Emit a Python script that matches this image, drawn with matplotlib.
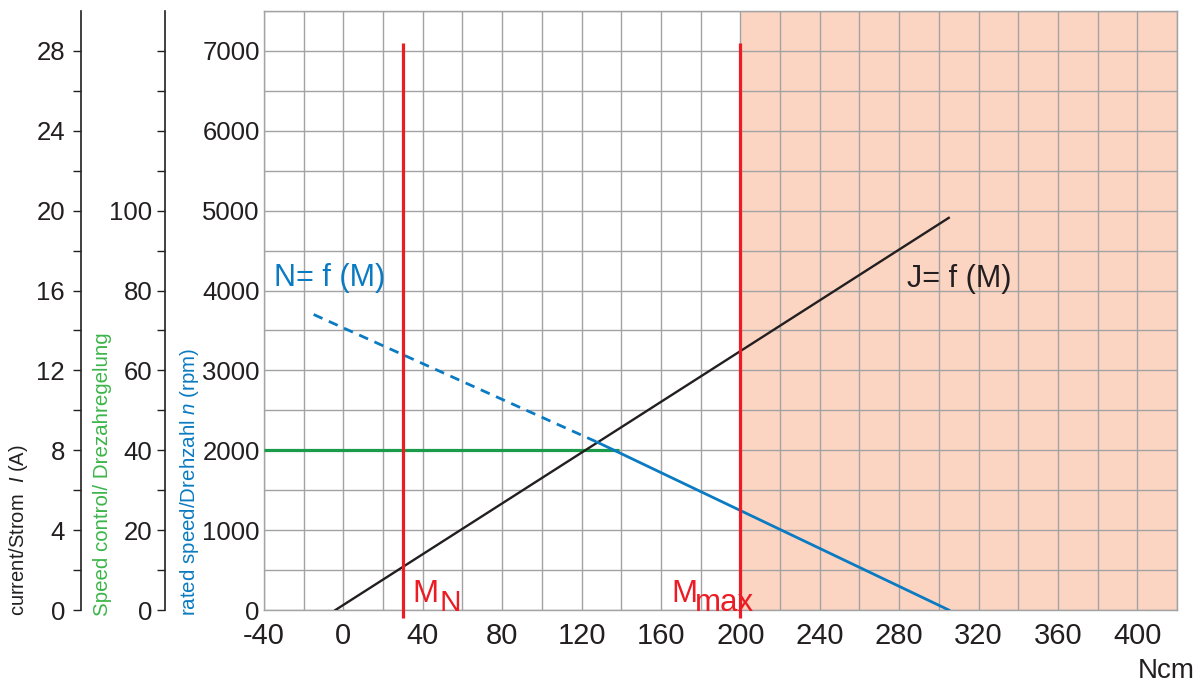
import matplotlib
matplotlib.use("Agg")
import matplotlib.pyplot as plt
import numpy as np

plt.rcParams['font.family'] = ['Liberation Sans', 'DejaVu Sans']
plt.rcParams['mathtext.fontset'] = 'custom'
plt.rcParams['mathtext.rm'] = 'Liberation Sans'
plt.rcParams['mathtext.it'] = 'Liberation Sans:italic'
plt.rcParams['axes.unicode_minus'] = False

# ---- data ----
x_ticks = [-40, 0, 40, 80, 120, 160, 200, 240, 280, 320, 360, 400]
rpm_ticks = [0, 1000, 2000, 3000, 4000, 5000, 6000, 7000]
current_ticks = [0, 4, 8, 12, 16, 20, 24, 28]
speed_ticks = [0, 20, 40, 60, 80, 100]

J_M = [-4, 305]
J_rpm = [0, 4910]
N_dash_M = [-15, 128]
N_dash_rpm = [3700, 2100]
N_solid_M = [128, 305]
N_solid_rpm = [2100, 0]
speed_ctrl_M = [-40, 139]
speed_ctrl_rpm = [2000, 2000]
M_N = 30
M_max = 200
red_rpm = [-100, 7100]
overload_M = [200, 420]

RED = '#ec1c24'
BLUE = '#0a7bc2'
GREEN = '#1a9b4a'
GREEN_TXT = '#3cb54a'
BLACK = '#231f20'
GRID = '#a3a3a3'

W, H = 1203, 682
fig = plt.figure(figsize=(W / 100, H / 100), dpi=100)

L, R, B, T = 264 / W, 1177 / W, 1 - 610 / H, 1 - 11 / H
ax = fig.add_axes([L, B, R - L, T - B])
ax.set_xlim(-40, 420)
ax.set_ylim(0, 7500)

ax.axvspan(overload_M[0], overload_M[1], color='#fcd4c2', zorder=0, lw=0)
ax.set_xticks(x_ticks)
ax.set_yticks(rpm_ticks)
ax.set_xticks(np.arange(-40, 421, 20), minor=True)
ax.set_yticks(np.arange(0, 7501, 500), minor=True)
ax.grid(which='both', color=GRID, lw=1.0, zorder=1)
ax.set_axisbelow(True)
ax.tick_params(axis='both', which='both', length=0)
ax.tick_params(axis='x', labelsize=21, pad=9, colors=BLACK)
ax.tick_params(axis='y', labelsize=18.5, pad=3, colors=BLACK)
for s in ax.spines.values():
    s.set_color(GRID)
    s.set_linewidth(1.0)

# lines
ax.plot(speed_ctrl_M, speed_ctrl_rpm, color=GREEN, lw=2.3, zorder=3, solid_capstyle='butt')
ax.plot(J_M, J_rpm, color=BLACK, lw=1.7, zorder=4)
ax.plot(N_dash_M, N_dash_rpm, color=BLUE, lw=2.0, ls=(0, (3.5, 2.5)), zorder=4)
ax.plot(N_solid_M, N_solid_rpm, color=BLUE, lw=2.0, zorder=4)
for m in (M_N, M_max):
    ax.plot([m, m], red_rpm, color=RED, lw=2.3, zorder=5, clip_on=False, solid_capstyle='butt')

# annotations
ax.text(-35, 4062, 'N= f (M)', color=BLUE, fontsize=22, va='baseline', ha='left')
ax.text(283.8, 4041, 'J= f (M)', color=BLACK, fontsize=22, va='baseline', ha='left')
ax.text(35, 104, 'M', color=RED, fontsize=22.5, va='baseline', ha='left')
ax.text(48.6, -12, 'N', color=RED, fontsize=21.5, va='baseline', ha='left', clip_on=False)
ax.text(165.4, 104, 'M', color=RED, fontsize=22.5, va='baseline', ha='left')
ax.text(177.2, -12, 'max', color=RED, fontsize=22.5, va='baseline', ha='left', clip_on=False)

fig.text(1138 / W, 1 - 678 / H, 'Ncm', fontsize=20, color=BLACK, va='baseline', ha='left')

# extra left axes
def side_axis(xpx, top, minor_step, labels, pad):
    a = fig.add_axes([xpx / W, B, 0.0001, T - B])
    a.set_ylim(0, top)
    a.patch.set_visible(False)
    for k in ('right', 'top', 'bottom'):
        a.spines[k].set_visible(False)
    a.spines['left'].set_linewidth(1.2)
    a.spines['left'].set_color(BLACK)
    a.set_xticks([])
    vals = np.arange(0, top - minor_step / 2, minor_step)
    a.set_yticks(vals)
    a.set_yticklabels([str(int(v)) if int(v) in labels else '' for v in vals])
    a.tick_params(axis='y', length=5.5, width=1.0, color=BLACK, labelsize=18.5, pad=pad, labelcolor=BLACK)
    return a

side_axis(81, 30, 2, current_ticks, 6)
side_axis(165, 150, 10, speed_ticks, 3.5)

# axis titles
yb = 1 - 616 / H
fig.text(18.5 / W, yb, 'current/Strom  $I$ (A)', rotation=90, fontsize=14.5,
         color=BLACK, ha='center', va='bottom')
fig.text(102 / W, yb, 'Speed control/ Drezahregelung', rotation=90, fontsize=14.8,
         color=GREEN_TXT, ha='center', va='bottom')
fig.text(189 / W, yb, 'rated speed/Drehzahl $n$ (rpm)', rotation=90, fontsize=14.8,
         color=BLUE, ha='center', va='bottom')

fig.savefig('out.png', dpi=100)
